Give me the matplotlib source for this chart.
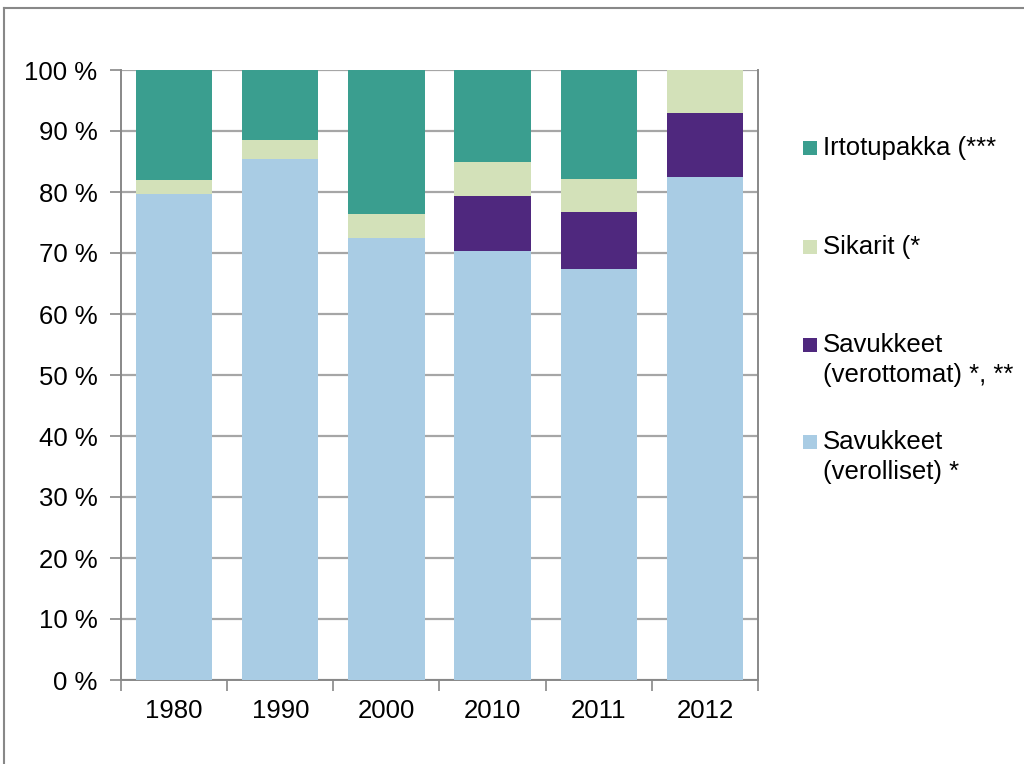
import numpy as np
import matplotlib.pyplot as plt
from matplotlib.lines import Line2D
from matplotlib.patches import Rectangle

plt.rcParams['font.family'] = ['Liberation Sans', 'DejaVu Sans']

# data (share of consumption, %)
years = ['1980', '1990', '2000', '2010', '2011', '2012']
verolliset = [79.6, 85.4, 72.5, 70.3, 67.3, 82.4]
verottomat = [0.0, 0.0, 0.0, 9.0, 9.4, 10.6]
sikarit = [2.3, 3.1, 3.9, 5.6, 5.5, 7.0]
irtotupakka = [18.1, 11.5, 23.6, 15.1, 17.8, 0.0]

labels = [['Savukkeet', '(verolliset) *'], ['Savukkeet', '(verottomat) *, **'],
          ['Sikarit (*'], ['Irtotupakka (***']]
colors = ['#a9cce4', '#4f287e', '#d3e1b9', '#3a9e8f']
fs = 18.5

W, H = 1024, 764
fig = plt.figure(figsize=(W / 100, H / 100), dpi=100)
ax = fig.add_axes([121 / W, 1 - 680 / H, (758 - 121) / W, (680 - 70) / H])

x = np.arange(len(years))
series = [verolliset, verottomat, sikarit, irtotupakka]
bottom = np.zeros(len(years))
for vals, c in zip(series, colors):
    ax.bar(x, vals, width=0.72, bottom=bottom, color=c, zorder=3)
    bottom += np.array(vals)

ax.set_ylim(0, 100)
ax.set_xlim(-0.5, len(years) - 0.5)
ax.set_yticks(np.arange(0, 101, 10))
ax.set_yticklabels([f'{v} %' for v in range(0, 101, 10)], fontsize=fs)
ax.set_xticks(x)
ax.set_xticklabels(years, fontsize=fs)
ax.set_xticks(np.arange(-0.5, len(years), 1), minor=True)
ax.tick_params(axis='x', which='major', length=0, pad=14)
ax.tick_params(axis='x', which='minor', length=8, color='#888888', width=1.2)
ax.tick_params(axis='y', length=8, color='#888888', width=1.2, pad=9)
ax.yaxis.grid(True, color='#a6a6a6', linewidth=1.6, zorder=0)
for s in ['left', 'bottom', 'right']:
    ax.spines[s].set_color('#888888')
    ax.spines[s].set_linewidth(1.4)
ax.spines['top'].set_visible(False)

# legend, drawn by hand (pixel positions of each entry, top line centre)
leg_y = [442, 345, 247, 148]
for lines, c, yc in zip(labels, colors, leg_y):
    fig.add_artist(Rectangle((803 / W, 1 - (yc + 7) / H), 14 / W, 14 / H,
                             transform=fig.transFigure, facecolor=c, edgecolor='none'))
    for i, t in enumerate(lines):
        fig.text(823 / W, 1 - (yc + 30 * i) / H, t, fontsize=fs, va='center', ha='left')

# outer frame
fig.add_artist(Line2D([4 / W, 4 / W], [0, 1 - 8 / H], color='#888888', lw=1.5))
fig.add_artist(Line2D([4 / W, 1], [1 - 8 / H, 1 - 8 / H], color='#888888', lw=1.5))

fig.savefig('out.png', dpi=100)
